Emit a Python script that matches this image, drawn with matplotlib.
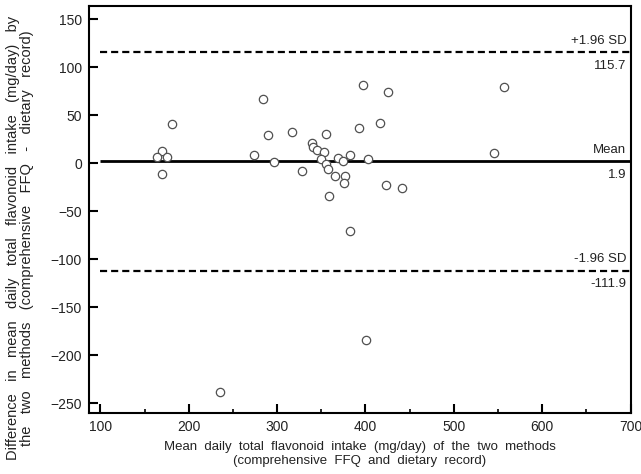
import matplotlib.pyplot as plt
import matplotlib.ticker as mticker

plt.rcParams['font.family'] = ['Liberation Sans', 'DejaVu Sans']

# mean of the two methods (mg/day)
mean_intake = [181.3, 169.3, 164.3, 174.9, 170.0, 283.6, 290.0, 274.1, 296.8,
               317.1, 327.8, 397.2, 425.1, 392.3, 416.4, 355.6, 339.4, 340.2,
               344.8, 353.0, 349.3, 355.6, 357.6, 368.9, 374.9, 382.1, 402.5,
               365.8, 376.5, 375.3, 358.7, 423.2, 441.3, 382.1, 556.5, 545.8,
               235.3, 400.6]
# difference FFQ - dietary record (mg/day)
diff_intake = [40.7, 13.1, 6.9, 6.3, -10.8, 66.7, 29.5, 9.0, 1.0,
               32.3, -8.0, 81.3, 74.0, 37.1, 41.7, 30.6, 21.5, 16.7,
               13.9, 11.8, 4.2, -1.0, -6.3, 5.5, 2.7, 9.0, 4.2,
               -13.6, -13.2, -20.2, -34.1, -22.9, -25.4, -70.3, 79.6, 10.7,
               -238.8, -184.3]

mean_diff = 1.9
upper_loa = 115.7
lower_loa = -111.9

x_ticks = [100, 200, 300, 400, 500, 600, 700]
y_ticks = [-250, -200, -150, -100, -50, 0, 50, 100, 150]

TEXT = '#222222'

fig = plt.figure(figsize=(6.41, 4.74), dpi=100)
ax = fig.add_axes([89 / 641, 61 / 474, 541.5 / 641, 407 / 474])

ax.plot(mean_intake, diff_intake, 'o', ms=6, mfc='white', mec='#505050',
        mew=0.9, zorder=3)

ax.hlines(mean_diff, 100, 700, colors='black', lw=2.0, zorder=2)
ax.hlines([upper_loa, lower_loa], 100, 700, colors='black', lw=1.6,
          linestyles=(0, (3.2, 1.8)), zorder=2)

def _label(y, above, below):
    ax.annotate(above, (700, y), xytext=(-3, 4), textcoords='offset points',
                ha='right', va='bottom', fontsize=9.5, color=TEXT)
    ax.annotate(below, (700, y), xytext=(-3, -5.5), textcoords='offset points',
                ha='right', va='top', fontsize=9.5, color=TEXT)

_label(upper_loa, '+1.96 SD', '115.7')
_label(mean_diff, 'Mean', '1.9')
_label(lower_loa, '-1.96 SD', '-111.9')

ax.set_xlim(87, 700)
ax.set_ylim(-260.4, 164)
ax.set_xticks(x_ticks)
ax.set_yticks(y_ticks)
ax.xaxis.set_minor_locator(mticker.MultipleLocator(50))
ax.tick_params(which='major', direction='in', length=6.5, width=1.5,
               labelsize=10, pad=5, labelcolor=TEXT)
ax.tick_params(which='minor', direction='in', length=3, width=1.2)
ax.tick_params(axis='y', which='minor', length=0)
for spine in ax.spines.values():
    spine.set_linewidth(1.5)

xlab = ['Mean daily total flavonoid intake (mg/day) of the two methods',
        '(comprehensive FFQ and dietary record)']
ylab = ['Difference in mean daily total flavonoid intake (mg/day) by',
        'the two methods (comprehensive FFQ - dietary record)']
# the original uses wide word gaps
ax.set_xlabel('\n'.join(s.replace(' ', '  ') for s in xlab), fontsize=9.5,
              linespacing=1.2, color=TEXT, labelpad=5)
fig.text(20 / 641, 0.498, '\n'.join(s.replace(' ', '   ') for s in ylab),
         rotation=90, ha='center', va='center', multialignment='center',
         fontsize=10.5, linespacing=1.0, color=TEXT)

fig.savefig('out.png', dpi=100)
